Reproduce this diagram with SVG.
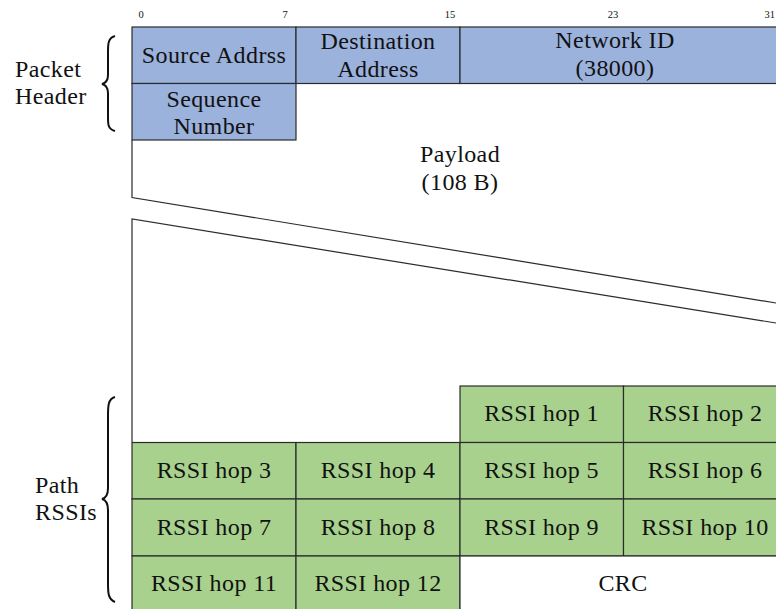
<svg xmlns="http://www.w3.org/2000/svg" width="776" height="609" viewBox="0 0 776 609">
<style>
.t{font-family:"Liberation Serif","Times New Roman",serif;font-size:24px;letter-spacing:0.4px;fill:#111;text-anchor:middle}
.l{font-family:"Liberation Serif","Times New Roman",serif;font-size:24px;letter-spacing:0.4px;fill:#111}
.b{font-family:"Liberation Serif","Times New Roman",serif;font-size:10.5px;fill:#111;text-anchor:middle}
.blue{fill:#9BB2DD;stroke:#2b2b2b;stroke-width:1.2}
.green{fill:#A9D18E;stroke:#2b2b2b;stroke-width:1.2}
.white{fill:#fff;stroke:#2b2b2b;stroke-width:1.2}
.ln{fill:none;stroke:#2b2b2b;stroke-width:1.2}
.br{fill:none;stroke:#111;stroke-width:2}
</style>
<rect width="776" height="609" fill="#fff"/>
<g id="bits">
<text class="b" x="141" y="18">0</text>
<text class="b" x="285" y="18">7</text>
<text class="b" x="450" y="18">15</text>
<text class="b" x="613" y="18">23</text>
<text class="b" x="775" y="18" style="text-anchor:end">31</text>
</g>
<g id="labels">
<text class="l" x="15" y="77">Packet</text>
<text class="l" x="15" y="104">Header</text>
<path class="br" d="M115,36 C108,38 108,44 108,52 L108,75 C108,80 106,83 102,84 C106,85 108,88 108,93 L108,117 C108,125 108,129 115,131"/>
<text class="l" x="35" y="493">Path</text>
<text class="l" x="35" y="520">RSSIs</text>
<path class="br" d="M115,397 C108,399 108,406 108,416 L108,488 C108,494 106,498 102,499 C106,500 108,504 108,510 L108,583 C108,593 108,599 115,602"/>
</g>
<g id="connectors">
<path class="ln" d="M132,140 L132,197.5 L776,303"/>
<path class="ln" d="M776,323 L132,219 L132,442"/>
</g>
<g id="source-address"><rect class="blue" x="132" y="27" width="164" height="56.5"/><text class="t" x="214" y="63">Source Addrss</text></g>
<g id="destination-address"><rect class="blue" x="296" y="27" width="164" height="56.5"/><text class="t" x="378" y="49">Destination</text><text class="t" x="378" y="77">Address</text></g>
<g id="network-id"><rect class="blue" x="460" y="27" width="327" height="56.5"/><text class="t" x="615" y="48">Network ID</text><text class="t" x="615" y="76">(38000)</text></g>
<g id="sequence-number"><rect class="blue" x="132" y="83.5" width="164" height="56.5"/><text class="t" x="214" y="107">Sequence</text><text class="t" x="214" y="134">Number</text></g>
<g id="payload"><text class="t" x="460" y="162">Payload</text><text class="t" x="460" y="190">(108 B)</text></g>
<g id="rssi1"><rect class="green" x="460" y="386" width="163.5" height="56.5"/><text class="t" x="541.5" y="421">RSSI hop 1</text></g>
<g id="rssi2"><rect class="green" x="623.5" y="386" width="164" height="56.5"/><text class="t" x="705" y="421">RSSI hop 2</text></g>
<g id="rssi3"><rect class="green" x="132" y="442.5" width="164" height="56.5"/><text class="t" x="214" y="478">RSSI hop 3</text></g>
<g id="rssi4"><rect class="green" x="296" y="442.5" width="164" height="56.5"/><text class="t" x="378" y="478">RSSI hop 4</text></g>
<g id="rssi5"><rect class="green" x="460" y="442.5" width="163.5" height="56.5"/><text class="t" x="541.5" y="478">RSSI hop 5</text></g>
<g id="rssi6"><rect class="green" x="623.5" y="442.5" width="164" height="56.5"/><text class="t" x="705" y="478">RSSI hop 6</text></g>
<g id="rssi7"><rect class="green" x="132" y="499" width="164" height="57"/><text class="t" x="214" y="535">RSSI hop 7</text></g>
<g id="rssi8"><rect class="green" x="296" y="499" width="164" height="57"/><text class="t" x="378" y="535">RSSI hop 8</text></g>
<g id="rssi9"><rect class="green" x="460" y="499" width="163.5" height="57"/><text class="t" x="541.5" y="535">RSSI hop 9</text></g>
<g id="rssi10"><rect class="green" x="623.5" y="499" width="164" height="57"/><text class="t" x="705" y="535">RSSI hop 10</text></g>
<g id="rssi11"><rect class="green" x="132" y="556" width="164" height="57"/><text class="t" x="214" y="591">RSSI hop 11</text></g>
<g id="rssi12"><rect class="green" x="296" y="556" width="164" height="57"/><text class="t" x="378" y="591">RSSI hop 12</text></g>
<g id="crc"><rect class="white" x="460" y="556" width="327.5" height="57"/><text class="t" x="623" y="591">CRC</text></g>
</svg>
